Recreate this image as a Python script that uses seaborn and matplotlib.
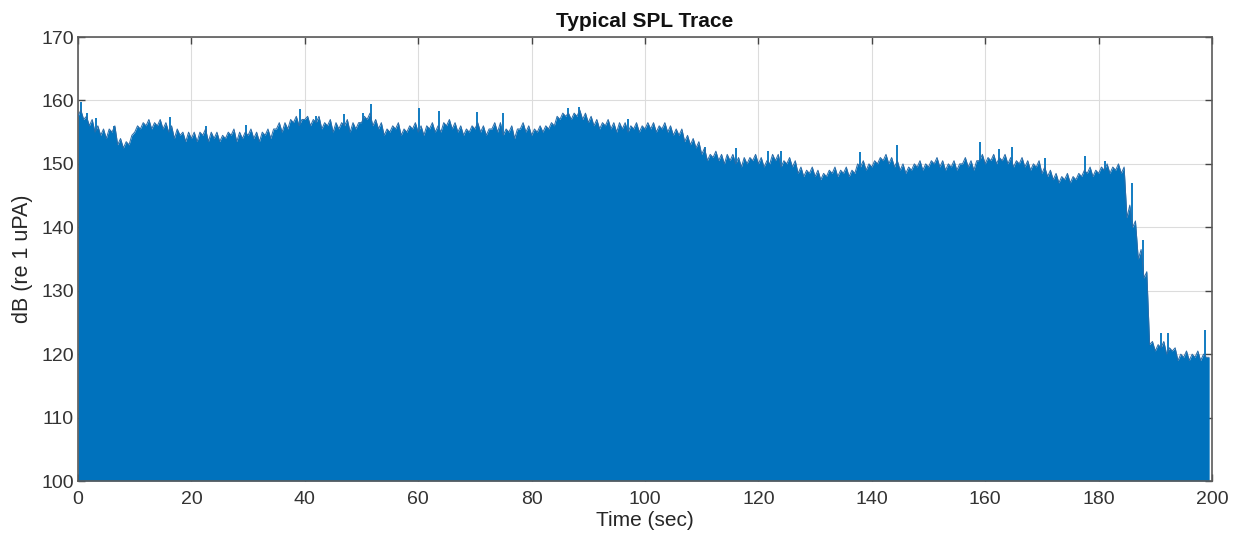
import matplotlib
matplotlib.use("Agg")
import matplotlib.pyplot as plt
import seaborn as sns
import numpy as np
import pandas as pd

# Lower envelope of the SPL trace, read at whole seconds (t = 0..199 s)
env_time = list(range(0, 200))
env_db = [
    157.5, 157, 156, 155, 154.5, 154, 155, 153, 152.5, 153,
    155, 155.5, 156, 155.5, 156, 155.5, 155, 154, 154.5, 153.5,
    154, 153.5, 154.5, 153.5, 154, 153.5, 154, 154.5, 153.5, 154,
    154.5, 154, 153.5, 154.5, 154, 155.5, 155, 155.5, 156.5, 156,
    157, 156, 156.5, 155.5, 156, 155, 155.5, 156, 155, 155.5,
    156.5, 157, 156, 155.5, 154.5, 155, 155.5, 154.5, 155, 155.5,
    155, 154.5, 155.5, 155, 155, 156, 155.5, 155, 154.5, 155,
    155.5, 155, 154.5, 155.5, 155, 154.5, 155, 154, 155.5, 155,
    154.5, 155, 155, 155.5, 156, 157, 157.5, 157, 157.5, 157,
    156.5, 156, 155.5, 156, 155.5, 155, 155.5, 155, 155.5, 155,
    155.5, 155.5, 155, 155.5, 155, 154.5, 154.5, 153.5, 153, 152.5,
    151.5, 150.5, 151, 150.5, 150, 150.5, 150, 149.5, 150, 150.5,
    150, 149.5, 150, 150.5, 149.5, 150, 149.5, 148.5, 148, 148.5,
    148, 147.5, 148, 148.5, 148, 148.5, 148, 148.5, 149.5, 149,
    149.5, 150, 150.5, 150, 149.5, 149, 148.5, 149, 149.5, 149,
    149.5, 150, 149.5, 149, 149.5, 149, 150, 149.5, 149, 150.5,
    150, 150.5, 150, 150.5, 150, 149.5, 150, 149.5, 149, 149.5,
    148.5, 148, 147.5, 147, 147.5, 147, 147.5, 148, 148.5, 148,
    148.5, 149, 148.5, 149, 148.5, 141.5, 140, 135, 132, 121.5,
    120.5, 121, 120, 120.5, 119, 119.5, 119, 119.5, 119, 119.5,
]

# Upper envelope, read at half seconds (t = 0.5..199.5 s)
peak_time = [t + 0.5 for t in range(0, 200)]
peak_db = [
    158.5, 157.5, 157, 156, 155.5, 155.5, 156, 154, 153.5, 154.5,
    156, 156.5, 157, 156.5, 157, 156.5, 156, 155.5, 155, 155,
    155, 155, 155.5, 155, 155, 154.5, 155, 155.5, 155, 155,
    155.5, 155, 155, 155.5, 155.5, 156.5, 156.5, 157, 157.5, 157,
    157.5, 157, 157.5, 156.5, 157, 156.5, 156.5, 157, 156.5, 156.5,
    157.5, 158, 157, 156.5, 155.5, 156, 156.5, 155.5, 156, 156.5,
    156, 156, 156.5, 156, 156.5, 157, 156.5, 156, 155.5, 156,
    156.5, 156, 155.5, 156.5, 156.5, 155.5, 156, 155.5, 156.5, 156,
    155.5, 156, 156, 156.5, 157.5, 158, 158, 158, 158.5, 158,
    157.5, 157, 156.5, 157, 156.5, 156.5, 156.5, 156, 156.5, 156,
    156.5, 156.5, 156, 156.5, 156, 155.5, 155.5, 154.5, 154, 153.5,
    152.5, 151.5, 152, 151.5, 151.5, 151.5, 151, 151, 151, 151.5,
    151, 150.5, 151.5, 151.5, 150.5, 151, 150.5, 149.5, 149, 149.5,
    149, 148.5, 149, 149.5, 149, 149.5, 149, 150, 150.5, 150,
    150.5, 151, 151.5, 151, 150.5, 150, 149.5, 150, 150.5, 150,
    150.5, 151, 150.5, 150, 150.5, 150, 151, 150.5, 150.5, 151.5,
    151, 151.5, 151, 151.5, 151, 150.5, 151, 150.5, 150, 150.5,
    149.5, 149, 148.5, 148, 148.5, 148, 148.5, 149, 149.5, 149,
    149.5, 150, 149.5, 150, 149.5, 143.5, 141, 136.5, 133, 122,
    121.5, 122, 121, 121, 120, 120.5, 120, 120.5, 120, 119.5,
]

# Isolated tall peaks above the envelope (time s, dB)
spike_time = [0.5, 1.5, 3.2, 6.3, 16.2, 22.5, 29.7, 39.2, 42.0, 47.0,
              50.3, 51.6, 60.1, 63.6, 70.3, 75.0, 86.5, 88.4, 97.0, 110.5,
              116.0, 121.7, 124.0, 138.0, 144.5, 159.0, 162.5, 164.8, 170.5, 177.6,
              181.2, 185.9, 187.9, 191.0, 192.3, 198.7]
spike_db = [159.8, 158.0, 157.3, 155.9, 157.4, 156.0, 156.1, 158.6, 157.5, 157.8,
            158.0, 159.4, 158.8, 158.4, 158.1, 158.0, 158.8, 158.9, 157.0, 152.7,
            152.5, 152.0, 152.0, 151.8, 153.0, 153.5, 152.4, 152.7, 151.0, 151.3,
            150.5, 147.0, 138.0, 123.3, 123.3, 123.8]

x_ticks = [0, 20, 40, 60, 80, 100, 120, 140, 160, 180, 200]
y_ticks = [100, 110, 120, 130, 140, 150, 160, 170]

blue = "#0072BD"

sns.set_style("whitegrid")
plt.rcParams["font.family"] = ["Liberation Sans", "DejaVu Sans"]

fig = plt.figure(figsize=(12.41, 5.41), dpi=100)
ax = fig.add_axes([78 / 1241, 1 - 481 / 541, (1212 - 78) / 1241, (481 - 37) / 541])

df = pd.concat([
    pd.DataFrame({"t": env_time, "db": env_db}),
    pd.DataFrame({"t": peak_time, "db": peak_db}),
]).sort_values("t").reset_index(drop=True)

ax.fill_between(df["t"], 100, df["db"], color=blue, linewidth=0, zorder=2)
sns.lineplot(data=df, x="t", y="db", color="#2a6ca8", linewidth=0.7, ax=ax,
             zorder=3, sort=False)
ax.vlines(spike_time, 100, spike_db, color=blue, linewidth=1.3, zorder=2.5)

ax.set_xlim(0, 200)
ax.set_ylim(100, 170)
ax.set_xticks(x_ticks)
ax.set_yticks(y_ticks)
ax.set_xticklabels([str(v) for v in x_ticks], fontsize=14, color="#333333")
ax.set_yticklabels([str(v) for v in y_ticks], fontsize=14, color="#333333")
ax.set_xlabel("Time (sec)", fontsize=15, color="#262626", labelpad=2)
ax.set_ylabel("dB (re 1 uPA)", fontsize=15.5, color="#262626", labelpad=6)
ax.set_title("Typical SPL Trace", fontsize=15, fontweight="bold", color="#111111", pad=7)

ax.grid(True, color="#dcdcdc", linewidth=0.8, zorder=0)
ax.set_axisbelow(True)
for s in ax.spines.values():
    s.set_visible(True)
    s.set_color("#5a5a5a")
    s.set_linewidth(1.2)
ax.tick_params(axis="x", pad=7)
ax.tick_params(axis="y", pad=3)
ax.tick_params(axis="both", which="both", direction="in", length=5, width=1,
               color="#444444", top=True, right=True, bottom=True, left=True)

fig.savefig("out.png", dpi=100)
